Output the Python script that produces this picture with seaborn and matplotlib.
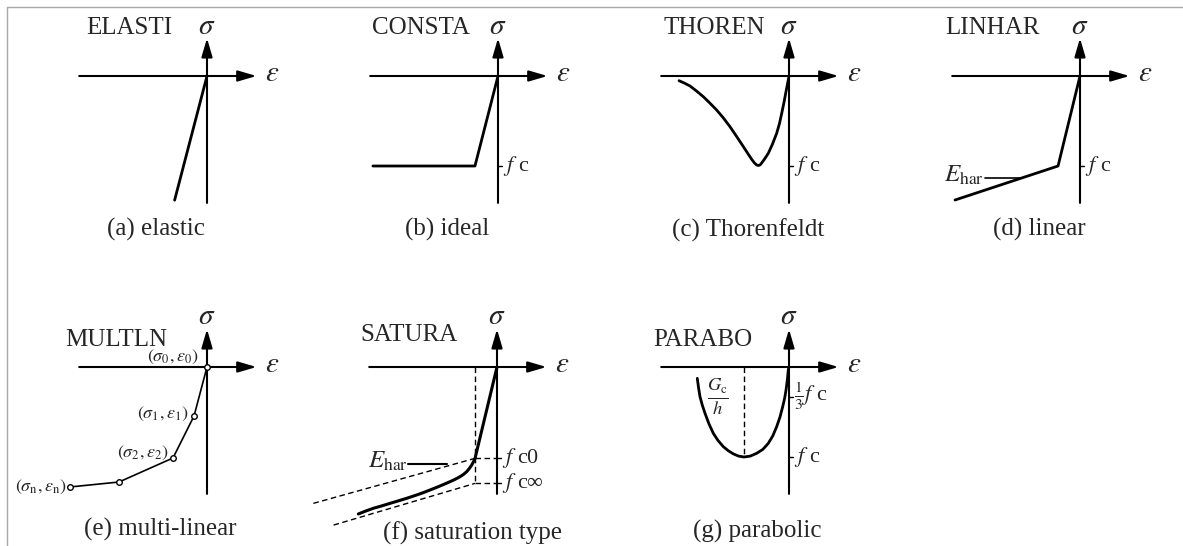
import matplotlib
matplotlib.use("Agg")
import matplotlib.pyplot as plt
from matplotlib.lines import Line2D
import seaborn as sns

sns.set_style("white")
plt.rcParams["font.family"] = ["Liberation Serif", "DejaVu Serif"]
plt.rcParams["mathtext.fontset"] = "stix"

# ---- model names and captions ----
model_names = ["ELASTI", "CONSTA", "THOREN", "LINHAR", "MULTLN", "SATURA", "PARABO"]
captions = ["(a) elastic", "(b) ideal", "(c) Thorenfeldt", "(d) linear",
            "(e) multi-linear", "(f) saturation type", "(g) parabolic"]

# ---- stress-strain curves (strain, stress normalised so that f_c = -1) ----
elastic_eps = [0.0, -0.36]
elastic_sig = [0.0, -1.38]

ideal_eps = [0.0, -0.256, -1.39]
ideal_sig = [0.0, -1.0, -1.0]

thoren_eps = [-1.222, -1.16, -1.10, -1.03, -0.952, -0.88, -0.804, -0.73, -0.656,
              -0.58, -0.507, -0.455, -0.415, -0.385, -0.36, -0.34, -0.32, -0.304,
              -0.27, -0.230, -0.185, -0.137, -0.105, -0.081, -0.055, -0.037,
              -0.015, 0.0]
thoren_sig = [-0.052, -0.080, -0.111, -0.165, -0.230, -0.300, -0.378, -0.465,
              -0.563, -0.675, -0.785, -0.865, -0.925, -0.965, -0.988, -0.995,
              -0.987, -0.967, -0.920, -0.859, -0.760, -0.637, -0.525, -0.415,
              -0.290, -0.193, -0.080, 0.0]

linhar_eps = [0.0, -0.244, -1.389]
linhar_sig = [0.0, -1.0, -1.378]

multi_eps = [0.0, -0.144, -0.378, -0.978, -1.522]
multi_sig = [0.0, -0.544, -1.011, -1.278, -1.333]
multi_labels = [r"$(\sigma_{\rm 0},\varepsilon_{\rm 0})$", r"$(\sigma_{\rm 1},\varepsilon_{\rm 1})$",
                r"$(\sigma_{\rm 2},\varepsilon_{\rm 2})$", None, r"$(\sigma_{\rm n},\varepsilon_{\rm n})$"]

satura_eps = [0.0, -0.244, -0.262, -0.281, -0.308, -0.337, -0.372, -0.411,
              -0.465, -0.522, -0.595, -0.670, -0.745, -0.819, -0.910, -1.004,
              -1.095, -1.189, -1.280, -1.374, -1.460, -1.541]
satura_sig = [0.0, -1.015, -1.054, -1.089, -1.128, -1.163, -1.193, -1.219,
              -1.248, -1.274, -1.306, -1.337, -1.367, -1.396, -1.428, -1.459,
              -1.487, -1.515, -1.543, -1.570, -1.601, -1.633]
satura_fc0 = -1.015
satura_fcinf = -1.293
satura_upper_eps = [-2.04, -0.244]      # initial hardening asymptote
satura_upper_sig = [-1.515, -1.015]
satura_lower_eps = [-1.815, -0.244]     # final asymptote
satura_lower_sig = [-1.756, -1.293]

parabo_eps = [-1.019, -1.005, -0.989, -0.963, -0.933, -0.890, -0.841, -0.790,
              -0.730, -0.675, -0.619, -0.560, -0.500, -0.430, -0.359, -0.290,
              -0.230, -0.180, -0.137, -0.100, -0.070, -0.048, -0.033, -0.018,
              -0.008, 0.0]
parabo_sig = [-0.126, -0.230, -0.330, -0.425, -0.515, -0.630, -0.737, -0.815,
              -0.885, -0.930, -0.965, -0.990, -1.000, -0.990, -0.959, -0.915,
              -0.848, -0.765, -0.663, -0.555, -0.441, -0.345, -0.256, -0.140,
              -0.033, 0.0]
parabo_third = -0.33

W, H, S = 1183, 546, 90.0
fig = plt.figure(figsize=(W / 100, H / 100), dpi=100)
fig.patch.set_facecolor("white")

# frame lines along the top and left edges
fig.add_artist(Line2D([7 / W, 1.0], [1 - 7 / H, 1 - 7 / H], color="#a8a8a8", lw=1.0))
fig.add_artist(Line2D([7 / W, 7 / W], [0.0, 1 - 7 / H], color="#a8a8a8", lw=1.0))


def panel(ox, oy):
    L, R, T, B = ox - 210, ox + 95, oy - 75, oy + 185
    ax = fig.add_axes([L / W, 1 - B / H, (R - L) / W, (B - T) / H])
    ax.set_xlim((L - ox) / S, (R - ox) / S)
    ax.set_ylim((oy - B) / S, (oy - T) / S)
    ax.axis("off")
    ax.patch.set_visible(False)
    return ax


def draw_axes(ax, x0=-1.42, x1=0.55, y0=-1.41, y1=0.42, sig_y=0.55):
    arrow = dict(arrowstyle="-|>,head_length=0.75,head_width=0.22", color="k",
                 lw=1.5, mutation_scale=15, shrinkA=0, shrinkB=0)
    ax.annotate("", xy=(x1, 0), xytext=(x0, 0), arrowprops=arrow, annotation_clip=False)
    ax.annotate("", xy=(0, y1), xytext=(0, y0), arrowprops=arrow, annotation_clip=False)
    ax.text(0.0, sig_y, r"$\sigma$", fontsize=21, ha="center", va="center")
    ax.text(x1 + 0.17, 0.02, r"$\varepsilon$", fontsize=21, ha="center", va="center")


def tick(ax, y, label, fs=16):
    ax.plot([0, 0.045], [y, y], color="k", lw=1.0)
    ax.text(0.06, y, label, fontsize=fs, ha="left", va="center")


def curve(ax, x, y, lw=2.0, **kw):
    sns.lineplot(x=x, y=y, ax=ax, color="k", lw=lw, sort=False, estimator=None,
                 solid_joinstyle="round", solid_capstyle="round", **kw)


def dashed(ax, x, y):
    ax.plot(x, y, color="k", lw=1.0, ls=(0, (4, 2.5)))


origins = [(207, 76), (498, 76), (789, 76), (1080, 76), (207, 367), (497, 367), (789, 367)]
axes = [panel(ox, oy) for ox, oy in origins]
name_pos = [(-1.344, 0.53), (-1.40, 0.53), (-1.40, 0.53), (-1.50, 0.53),
            (-1.578, 0.30), (-1.522, 0.355), (-1.511, 0.30)]
cap_pos = [(-0.567, -1.71), (-0.567, -1.71), (-0.456, -1.71), (-0.456, -1.71),
           (-0.522, -1.80), (-0.267, -1.845), (-0.356, -1.83)]

for i, ax in enumerate(axes):
    draw_axes(ax, sig_y=0.55 if i < 4 else 0.56)
    ax.text(*name_pos[i], model_names[i], fontsize=18, ha="left", va="center")
    ax.text(*cap_pos[i], captions[i], fontsize=18, ha="center", va="center")

# (a) elastic
curve(axes[0], elastic_eps, elastic_sig)

# (b) ideal
curve(axes[1], ideal_eps, ideal_sig)
tick(axes[1], -1.0, r"$f$ c")

# (c) Thorenfeldt
curve(axes[2], thoren_eps, thoren_sig)
tick(axes[2], -1.0, r"$f$ c")

# (d) linear hardening
ax = axes[3]
curve(ax, linhar_eps, linhar_sig)
tick(ax, -1.0, r"$f$ c")
ax.plot([-1.06, -0.644], [-1.132, -1.132], color="k", lw=1.2)
ax.text(-1.065, -1.10, r"$E_{\rm har}$", fontsize=18, ha="right", va="center")

# (e) multi-linear
ax = axes[4]
curve(ax, multi_eps, multi_sig, lw=1.2)
ax.plot(multi_eps, multi_sig, ls="none", marker="o", ms=4.0, mfc="white",
        mec="k", mew=1.0, zorder=4)
lab_off = [(-0.10, 0.11), (-0.065, 0.022), (-0.055, 0.055), None, (-0.035, 0.0)]
for e, s, lab, off in zip(multi_eps, multi_sig, multi_labels, lab_off):
    if lab is None:
        continue
    ax.text(e + off[0], s + off[1], lab, fontsize=13, ha="right", va="center")

# (f) saturation
ax = axes[5]
curve(ax, satura_eps, satura_sig, lw=2.2)
dashed(ax, satura_upper_eps, satura_upper_sig)
dashed(ax, satura_lower_eps, satura_lower_sig)
dashed(ax, [satura_eps[1], satura_eps[1]], [0, satura_fcinf])
dashed(ax, [satura_eps[1], 0], [satura_fc0, satura_fc0])
dashed(ax, [satura_eps[1], 0], [satura_fcinf, satura_fcinf])
tick(ax, satura_fc0, r"$f$ c0")
tick(ax, satura_fcinf, r"$f$ c∞")
ax.plot([-0.989, -0.556], [-1.078, -1.078], color="k", lw=1.5)
ax.text(-0.995, -1.045, r"$E_{\rm har}$", fontsize=18, ha="right", va="center")

# (g) parabolic
ax = axes[6]
curve(ax, parabo_eps, parabo_sig)
dashed(ax, [-0.5, -0.5], [0, -1.0])
tick(ax, parabo_third, r"$\frac{1}{3}f$ c")
tick(ax, -1.0, r"$f$ c")
ax.text(-0.79, -0.33, r"$\frac{G_{\rm c}}{h}$", fontsize=19, ha="center", va="center")

fig.savefig("out.png", dpi=100, facecolor="white")
